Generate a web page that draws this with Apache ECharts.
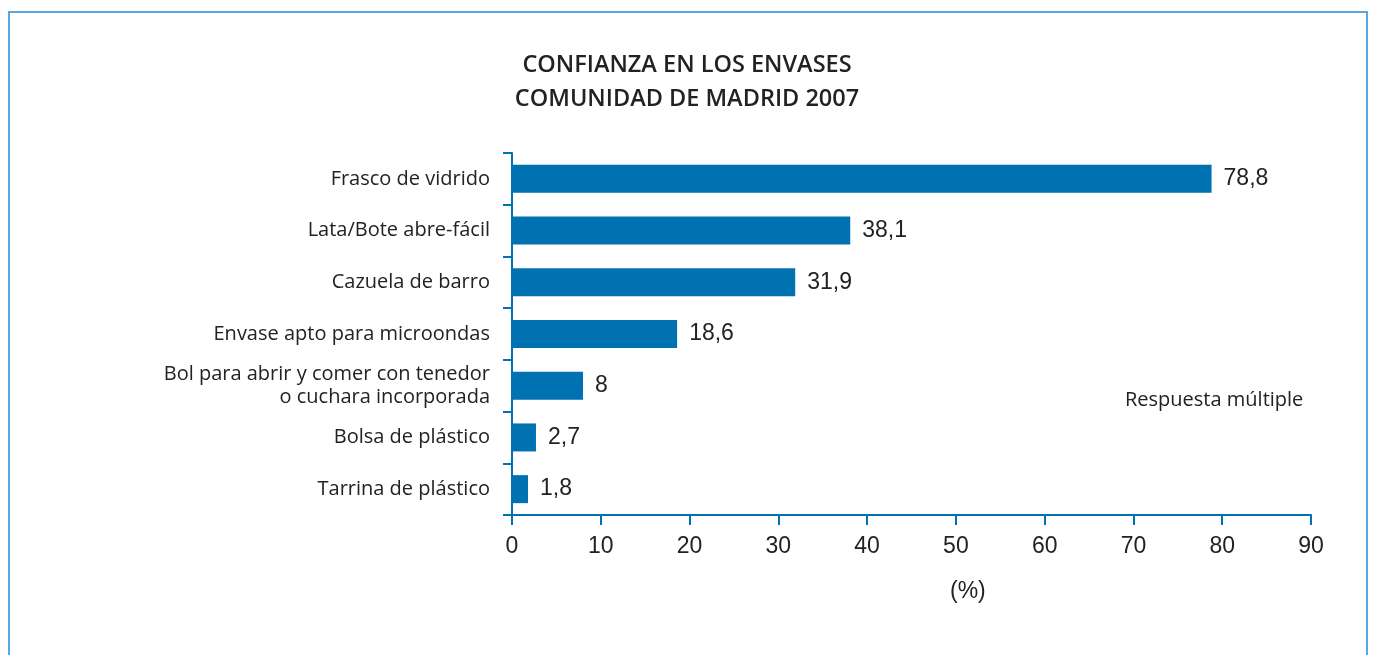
<!DOCTYPE html>
<html><head><meta charset="utf-8">
<script src="https://cdn.jsdelivr.net/npm/echarts@6/dist/echarts.min.js"></script>
<style>html,body{margin:0;padding:0;background:#fff}#c{width:1374px;height:655px}</style>
</head><body><div id="c"></div>
<script>
const categories = ["Frasco de vidrido","Lata/Bote abre-fácil","Cazuela de barro","Envase apto para microondas","Bol para abrir y comer con tenedor\no cuchara incorporada","Bolsa de plástico","Tarrina de plástico"];
const values = [78.8, 38.1, 31.9, 18.6, 8, 2.7, 1.8];
const valueLabels = ["78,8","38,1","31,9","18,6","8","2,7","1,8"];
const titleLines = ["CONFIANZA EN LOS ENVASES","COMUNIDAD DE MADRID 2007"];
const note = "Respuesta múltiple";
const axisName = "(%)";
const figureLabel = "Gráfico 18";

const blue = "#0071b1";
const human = "'Open Sans','Noto Sans',sans-serif";
const helv = "'Liberation Sans',Arial,sans-serif";
const chart = echarts.init(document.getElementById('c'));
chart.setOption({
  animation:false,
  title:{text:titleLines.join("\n"),left:'center',top:43,
    textStyle:{fontFamily:human,fontSize:23.5,fontWeight:600,color:'#222',lineHeight:34}},
  grid:{left:512,right:63,top:153,bottom:140},
  xAxis:{type:'value',min:0,max:90,interval:10,
    axisLine:{show:true,lineStyle:{color:blue,width:2}},
    axisTick:{show:true,length:10,lineStyle:{color:blue,width:2}},
    splitLine:{show:false},
    axisLabel:{fontFamily:helv,fontSize:23,color:'#222',margin:20}},
  yAxis:{type:'category',data:categories,inverse:true,
    axisLine:{show:true,lineStyle:{color:blue,width:2}},
    axisTick:{show:true,length:9,lineStyle:{color:blue,width:2}},
    axisLabel:{fontFamily:human,fontSize:20,color:'#222',margin:22,lineHeight:23,align:'right'}},
  series:[{type:'bar',data:values,barWidth:28,itemStyle:{color:blue},
    label:{show:true,position:'right',distance:12,
      formatter:p=>valueLabels[p.dataIndex],
      fontFamily:helv,fontSize:23,color:'#222'}}],
  graphic:[
    {type:'rect',shape:{x:9,y:12,width:1358,height:700},style:{fill:'none',stroke:'#5ba6dd',lineWidth:2},silent:true},
    {type:'text',left:8,top:-13,style:{text:figureLabel,fontFamily:"'DejaVu Sans',sans-serif",fontStyle:'italic',fontSize:16,fill:'#333'}},
    {type:'text',left:950,top:580,style:{text:axisName,fontFamily:helv,fontSize:23,fill:'#222'}},
    {type:'text',left:1125,top:390,style:{text:note,fontFamily:human,fontSize:20,fill:'#222'}}
  ]
});
</script></body></html>
